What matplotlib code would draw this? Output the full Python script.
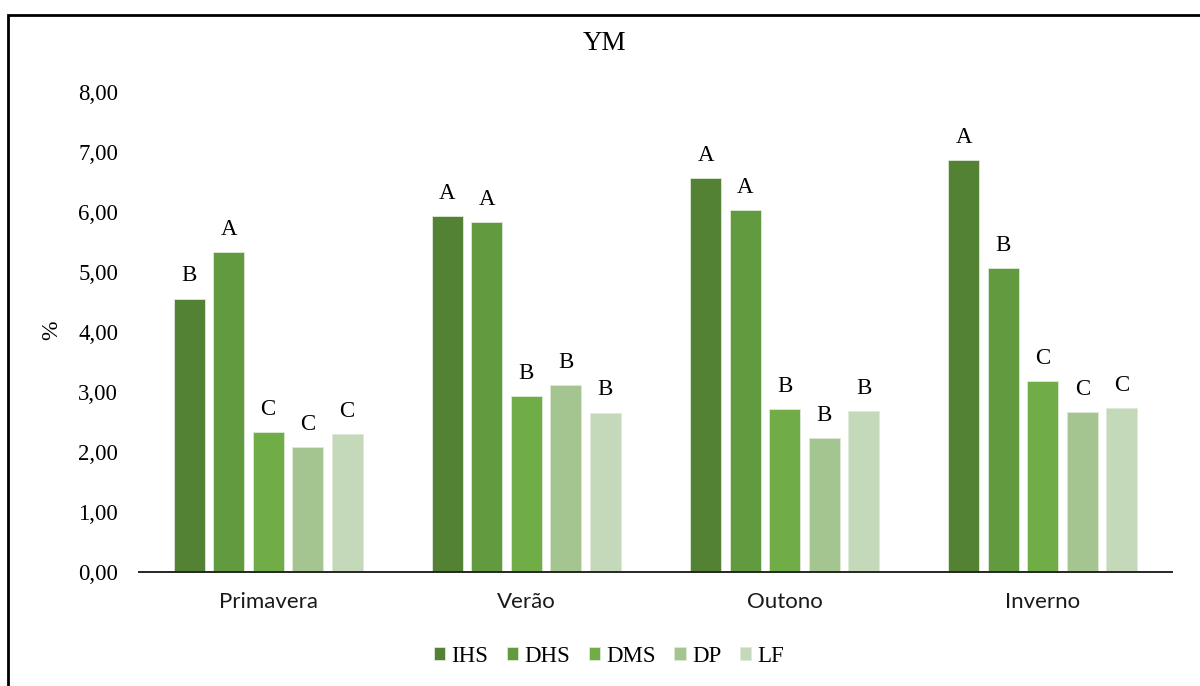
import numpy as np
import matplotlib.pyplot as plt
from matplotlib.patches import Rectangle

# YM (%) by season and system, with Tukey letters over each bar
seasons = ["Primavera", "Verão", "Outono", "Inverno"]
systems = ["IHS", "DHS", "DMS", "DP", "LF"]

ihs = [4.55, 5.93, 6.56, 6.86]
dhs = [5.32, 5.83, 6.03, 5.06]
dms = [2.33, 2.92, 2.71, 3.17]
dp = [2.08, 3.11, 2.23, 2.66]
lf = [2.29, 2.65, 2.68, 2.73]

ihs_letters = ["B", "A", "A", "A"]
dhs_letters = ["A", "A", "A", "B"]
dms_letters = ["C", "B", "B", "C"]
dp_letters = ["C", "B", "B", "C"]
lf_letters = ["C", "B", "B", "C"]

colors = ["#548235", "#629A3F", "#70AD47", "#A5C590", "#C4D8BA"]

SERIF = "Liberation Serif"


def main():
    fig = plt.figure(figsize=(12, 6.86), dpi=100)
    fig.patch.set_facecolor("white")

    # page frame around the chart
    fig.patches.append(Rectangle((8 / 1200, -0.05), 1.1, 1 - 15 / 686 + 0.05,
                                 transform=fig.transFigure, fill=False,
                                 edgecolor="black", lw=2.0))

    ax = fig.add_axes([139 / 1200, 1 - 571.5 / 686, 1033 / 1200, 480 / 686])

    values = [ihs, dhs, dms, dp, lf]
    letters = [ihs_letters, dhs_letters, dms_letters, dp_letters, lf_letters]
    x = np.arange(len(seasons))
    width = 0.12
    step = 0.153
    for k, (name, vals, lets) in enumerate(zip(systems, values, letters)):
        pos = x + (k - 2) * step
        bars = ax.bar(pos, vals, width, color=colors[k], label=name,
                      edgecolor="#dfe9d8", linewidth=0.6, zorder=2)
        for b, v, t in zip(bars, vals, lets):
            ax.annotate(t, (b.get_x() + b.get_width() / 2, v),
                        xytext=(0, 12.3), textcoords="offset points",
                        ha="center", va="baseline", fontsize=16.5,
                        family=SERIF, color="black")

    ax.set_xlim(-0.5, 3.5)
    ax.set_ylim(0, 8)
    ax.set_yticks(np.arange(0, 9, 1))
    ax.set_yticklabels([f"{v:.2f}".replace(".", ",") for v in range(0, 9)],
                       family=SERIF, fontsize=16.5)
    ax.set_xticks(x)
    ax.set_xticklabels(seasons, family="Lato", fontsize=16, color="#1a1a1a")
    ax.tick_params(axis="y", length=0, pad=15)
    ax.tick_params(axis="x", length=0, pad=15)
    for s in ["top", "right", "left"]:
        ax.spines[s].set_visible(False)
    ax.spines["bottom"].set_color("#262626")
    ax.spines["bottom"].set_linewidth(1.4)
    ax.spines["bottom"].set_zorder(3)

    ax.set_ylabel("%", family=SERIF, fontsize=17, va="center")
    ax.yaxis.set_label_coords(52 / 1200, 1 - 330 / 686, transform=fig.transFigure)

    fig.text(605 / 1200, 1 - 43 / 686, "YM", ha="center", va="center",
             family=SERIF, fontsize=19.5)

    fig.legend(loc="center", bbox_to_anchor=(609 / 1200, 1 - 656 / 686),
               ncol=5, frameon=False, prop={"family": SERIF, "size": 16.5},
               handlelength=0.5, handleheight=0.5, handletextpad=0.28,
               columnspacing=0.8, borderpad=0)

    fig.savefig("out.png", dpi=100, facecolor="white")


if __name__ == "__main__":
    main()
